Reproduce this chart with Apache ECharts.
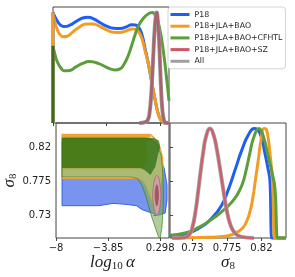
<!DOCTYPE html>
<html><head><meta charset="utf-8">
<script src="https://cdn.jsdelivr.net/npm/echarts@6/dist/echarts.min.js"></script>
<style>html,body{margin:0;padding:0;background:#fff}#c{width:295px;height:277px}</style>
</head><body><div id="c"></div>
<script>
// ---------- names / ticks ----------
const seriesNames = ['P18', 'P18+JLA+BAO', 'P18+JLA+BAO+CFHTL', 'P18+JLA+BAO+SZ', 'All'];
const alphaTicks = [-8, -3.85, 0.298];
const sigmaTicks = [0.73, 0.775, 0.82];

// ---------- 1D posteriors in log10(alpha) ----------
const alphaP18 = [[-8,1.0],[-7.8,0.95],[-7.6,0.91],[-7.4,0.885],[-7.1,0.873],[-6.7,0.885],[-6.2,0.92],[-5.7,0.95],[-5.3,0.957],[-4.8,0.94],[-4.3,0.905],[-3.8,0.875],[-3.3,0.858],[-2.8,0.856],[-2.3,0.87],[-1.9,0.89],[-1.6,0.888],[-1.35,0.865],[-1.1,0.80],[-0.85,0.67],[-0.6,0.535],[-0.35,0.375],[-0.1,0.225],[0.15,0.09],[0.4,0.02],[0.65,0],[1,0]];
const alphaJLA = [[-8,1.0],[-7.85,0.91],[-7.65,0.84],[-7.45,0.80],[-7.2,0.78],[-6.9,0.785],[-6.5,0.82],[-6.0,0.865],[-5.4,0.896],[-4.9,0.895],[-4.3,0.87],[-3.8,0.84],[-3.3,0.822],[-2.8,0.82],[-2.3,0.835],[-1.9,0.85],[-1.6,0.848],[-1.35,0.825],[-1.1,0.765],[-0.85,0.65],[-0.6,0.535],[-0.35,0.375],[-0.1,0.225],[0.15,0.09],[0.4,0.02],[0.65,0],[1,0]];
const alphaCFHTL = [[-8,0.70],[-7.85,0.62],[-7.65,0.55],[-7.4,0.50],[-7.1,0.472],[-6.7,0.475],[-6.2,0.51],[-5.7,0.54],[-5.2,0.556],[-4.7,0.548],[-4.2,0.525],[-3.7,0.497],[-3.2,0.48],[-2.8,0.49],[-2.5,0.53],[-2.2,0.60],[-1.9,0.70],[-1.6,0.81],[-1.3,0.895],[-1.0,0.946],[-0.65,0.985],[-0.3,1.0],[0.0,0.96],[0.3,0.84],[0.55,0.66],[0.8,0.42],[1.0,0.2]];
const alphaSZ = [[-1.3,0],[-0.8,0.01],[-0.6,0.04],[-0.5,0.1],[-0.4,0.22],[-0.3,0.42],[-0.2,0.66],[-0.1,0.87],[0.0,0.99],[0.05,1.0],[0.1,0.97],[0.2,0.82],[0.3,0.55],[0.4,0.27],[0.5,0.1],[0.6,0.03],[0.7,0.005],[1.0,0]];
const alphaAll = [[-1.3,0],[-0.8,0.01],[-0.6,0.04],[-0.5,0.1],[-0.4,0.22],[-0.3,0.42],[-0.2,0.66],[-0.1,0.87],[0.0,0.99],[0.05,1.0],[0.1,0.97],[0.2,0.82],[0.3,0.55],[0.4,0.27],[0.5,0.1],[0.6,0.03],[0.7,0.005],[1.0,0]];
// values at the lower prior edge (vertical drop to zero)
const alphaEdgeP18 = [[-8,0],[-8,1.0]];
const alphaEdgeJLA = [[-8,0],[-8,1.0]];
const alphaEdgeCFHTL = [[-8,0],[-8,0.70]];

// ---------- 1D posteriors in sigma8 ----------
const sigP18 = [[0.7007,0.015],[0.7203,0.035],[0.7376,0.085],[0.7551,0.18],[0.7681,0.30],[0.7767,0.44],[0.7855,0.62],[0.7942,0.80],[0.8028,0.94],[0.8106,1.0],[0.8181,0.956],[0.8246,0.77],[0.8289,0.62],[0.8311,0.52],[0.8320,0.3],[0.8326,0.05],[0.834,0],[0.852,0]];
const sigJLA = [[0.7111,0],[0.7398,0.005],[0.7659,0.012],[0.7812,0.03],[0.7920,0.07],[0.7985,0.12],[0.8050,0.24],[0.8093,0.39],[0.8115,0.5],[0.8158,0.71],[0.8194,0.895],[0.8233,1.0],[0.8268,0.986],[0.8311,0.77],[0.8341,0.55],[0.8355,0.3],[0.8363,0.03],[0.8376,0],[0.852,0]];
const sigCFHTL = [[0.7007,0.025],[0.7203,0.045],[0.7376,0.095],[0.7551,0.17],[0.7681,0.24],[0.7790,0.31],[0.7880,0.39],[0.7950,0.49],[0.8000,0.62],[0.8050,0.78],[0.8100,0.92],[0.8168,1.0],[0.8224,0.93],[0.8289,0.74],[0.8337,0.6],[0.8376,0.45],[0.8392,0.2],[0.8400,0.02],[0.8415,0],[0.852,0]];
const sigSZ = [[0.7035,0],[0.7203,0.005],[0.7268,0.04],[0.7300,0.10],[0.7335,0.22],[0.7370,0.40],[0.7405,0.60],[0.7440,0.78],[0.7475,0.92],[0.7528,1.0],[0.7580,0.93],[0.7620,0.80],[0.7660,0.63],[0.7700,0.45],[0.7745,0.26],[0.7800,0.11],[0.7860,0.04],[0.7940,0.01],[0.8100,0]];
const sigAll = [[0.7035,0],[0.7203,0.005],[0.7268,0.04],[0.7300,0.10],[0.7335,0.22],[0.7370,0.40],[0.7405,0.60],[0.7440,0.78],[0.7475,0.92],[0.7528,1.0],[0.7580,0.93],[0.7620,0.80],[0.7660,0.63],[0.7700,0.45],[0.7745,0.26],[0.7800,0.11],[0.7860,0.04],[0.7940,0.01],[0.8100,0]];

// ---------- 2D contours (log10 alpha, sigma8) ----------
const p18C95 = [[-7.52,0.827],[-1.26,0.827],[-0.48,0.8217],[0.14,0.8099],[0.61,0.7928],[0.84,0.7704],[0.84,0.7507],[0.69,0.7336],[0.14,0.7305],[-0.35,0.7335],[-1.13,0.738],[-1.6,0.7432],[-2.42,0.745],[-3.46,0.7463],[-4.6,0.7432],[-7.52,0.7432]];
const p18C68 = [[-7.52,0.825],[-1.3,0.825],[-0.9,0.818],[-0.75,0.80],[-0.95,0.787],[-1.4,0.784],[-7.52,0.784]];
const jlaC95 = [[-7.52,0.8371],[-0.48,0.8371],[-0.17,0.8323],[0.22,0.8231],[0.45,0.8099],[0.53,0.7967],[0.49,0.7836],[0.30,0.7638],[0.06,0.745],[-0.2,0.742],[-0.45,0.752],[-0.87,0.7704],[-1.13,0.776],[-1.41,0.779],[-7.52,0.779]];
const jlaC68 = [[-7.52,0.8371],[-0.55,0.8371],[-0.48,0.834],[-0.75,0.830],[-0.79,0.8191],[-0.71,0.8059],[-0.79,0.7967],[-1.02,0.7945],[-1.26,0.791],[-7.52,0.791]];
const cfhtlC95 = [[-7.52,0.8323],[-0.87,0.8323],[-0.33,0.8296],[0.06,0.8231],[0.37,0.8099],[0.49,0.7902],[0.55,0.7638],[0.55,0.744],[0.43,0.7138],[0.30,0.7007],[0.16,0.7024],[-0.35,0.727],[-0.87,0.7572],[-1.17,0.7704],[-1.51,0.779],[-2.04,0.7809],[-7.52,0.7809]];
const cfhtlC68 = [[-7.52,0.8323],[-0.2,0.8323],[0.2,0.829],[0.3,0.82],[0.16,0.8125],[-0.09,0.7945],[-0.48,0.7836],[-0.95,0.79],[-1.3,0.7928],[-7.52,0.7928]];
const szC95 = [[0.03,0.783],[0.2,0.7785],[0.31,0.767],[0.36,0.757],[0.31,0.746],[0.2,0.7355],[0.03,0.731],[-0.14,0.7355],[-0.25,0.746],[-0.3,0.757],[-0.25,0.767],[-0.14,0.7785]];
const szC68 = [[0.03,0.7715],[0.13,0.768],[0.2,0.757],[0.13,0.746],[0.03,0.7425],[-0.07,0.746],[-0.14,0.757],[-0.07,0.768]];

// ---------- styling ----------
const COL = {p18:'#1f5ef5', jla:'#f39c1f', cfhtl:'#5b9e3c', sz:'#cf5764', all:'#a0a0a0'};
const AX = '#444';
const TXT = '#222';
const fmtNum = v => (v < 0 ? '\u2212' + String(-v) : String(v));

function line1D(name, data, color, xi, yi, extra) {
  return Object.assign({
    type:'line', name, data, xAxisIndex:xi, yAxisIndex:yi,
    color, symbol:'none', showSymbol:false, smooth:0.5,
    clip:false, silent:true,
    lineStyle:{width:3, color}
  }, extra || {});
}
function contour(name, pts, fill, stroke, lw, smooth) {
  return {
    type:'custom', name, coordinateSystem:'cartesian2d', xAxisIndex:1, yAxisIndex:1,
    data: pts, clip:true, silent:true,
    encode:{x:0, y:1},
    renderItem:(params, api) => {
      if (params.dataIndex !== 0) return null;
      const P = pts.map(p => api.coord(p));
      return {type:'polygon', shape:{points:P, smooth: smooth || 0},
        style:{fill, stroke: stroke || null, lineWidth: stroke ? (lw || 1) : 0}};
    }
  };
}

const hiddenAxis = {axisLine:{show:false}, axisLabel:{show:false}, axisTick:{show:false}, splitLine:{show:false}};
const labelStyle = {fontSize:10, fontFamily:'DejaVu Sans', color:TXT, margin:5};
const tickStyle = (vals, inside) => ({show:true, customValues:vals, length:3, inside:!!inside, lineStyle:{color:AX, width:1}});
const richName = {
  a:{fontFamily:'Liberation Serif', fontStyle:'italic', fontSize:17, color:TXT},
  s:{fontFamily:'Liberation Serif', fontSize:11, color:TXT, padding:[7,0,0,0]}
};

const option = {
  animation:false,
  backgroundColor:'#fff',
  grid:[
    {left:53, top:7, width:116, height:116, show:true, borderColor:AX, borderWidth:1},
    {left:53, top:123, width:116, height:115, show:true, borderColor:AX, borderWidth:1},
    {left:170, top:123, width:116, height:115, show:true, borderColor:AX, borderWidth:1}
  ],
  xAxis:[
    {gridIndex:0, type:'value', min:-8, max:1, axisLine:{show:false}, splitLine:{show:false},
     axisTick:tickStyle(alphaTicks), axisLabel:{show:false}},
    {gridIndex:1, type:'value', min:-8, max:1, axisLine:{show:false}, splitLine:{show:false},
     axisTick:tickStyle(alphaTicks),
     axisLabel:Object.assign({customValues:alphaTicks, formatter:fmtNum}, labelStyle),
     name:'{a|log}{s|10}{a|\u2009\u03b1}', nameLocation:'middle', nameGap:16,
     nameTextStyle:{rich:richName}},
    {gridIndex:2, type:'value', min:0.7007, max:0.852, axisLine:{show:false}, splitLine:{show:false},
     axisTick:tickStyle(sigmaTicks),
     axisLabel:Object.assign({customValues:sigmaTicks, formatter:fmtNum}, labelStyle),
     name:'{a|\u03c3}{s|8}', nameLocation:'middle', nameGap:16,
     nameTextStyle:{rich:richName}}
  ],
  yAxis:[
    Object.assign({gridIndex:0, type:'value', min:0, max:1.05}, hiddenAxis),
    {gridIndex:1, type:'value', min:0.7007, max:0.852, axisLine:{show:false}, splitLine:{show:false},
     axisTick:tickStyle(sigmaTicks),
     axisLabel:Object.assign({customValues:sigmaTicks, formatter:fmtNum}, labelStyle),
     name:'{a|\u03c3}{s|8}', nameLocation:'middle', nameGap:34, nameRotate:90,
     nameTextStyle:{rich:richName}},
    Object.assign({gridIndex:2, type:'value', min:0, max:1.05, position:'left'}, hiddenAxis),
    {gridIndex:2, type:'value', min:0.7007, max:0.852, position:'left', axisLine:{show:false},
     splitLine:{show:false}, axisLabel:{show:false}, axisTick:tickStyle(sigmaTicks, true)}
  ],
  legend:{
    data:seriesNames, orient:'vertical', left:168, top:7, icon:'rect',
    itemWidth:19, itemHeight:3, itemGap:0.7, padding:[2,3,2,2.5],
    backgroundColor:'#fff', borderColor:'#d4d4d4', borderWidth:1, borderRadius:3,
    selectedMode:false,
    textStyle:{fontSize:7.8, fontFamily:'DejaVu Sans', color:TXT, lineHeight:11}
  },
  series:[
    // 1D log10 alpha (top-left)
    line1D(seriesNames[0], alphaP18, COL.p18, 0, 0),
    line1D(seriesNames[1], alphaJLA, COL.jla, 0, 0),
    line1D(seriesNames[2], alphaCFHTL, COL.cfhtl, 0, 0),
    line1D(seriesNames[0], alphaEdgeP18, COL.p18, 0, 0, {smooth:false}),
    line1D(seriesNames[1], alphaEdgeJLA, COL.jla, 0, 0, {smooth:false}),
    line1D(seriesNames[2], alphaEdgeCFHTL, '#3f6a1c', 0, 0, {smooth:false}),
    line1D(seriesNames[4], alphaAll, COL.all, 0, 0, {lineStyle:{width:4, color:'#9a9a9a'}}),
    line1D(seriesNames[3], alphaSZ, COL.sz, 0, 0, {lineStyle:{width:2.6, color:'#b04a58', opacity:0.7}}),
    // 1D sigma8 (bottom-right)
    line1D(seriesNames[0], sigP18, COL.p18, 2, 2),
    line1D(seriesNames[1], sigJLA, COL.jla, 2, 2),
    line1D(seriesNames[2], sigCFHTL, COL.cfhtl, 2, 2),
    line1D(seriesNames[4], sigAll, COL.all, 2, 2, {lineStyle:{width:4, color:'#a8a8a8'}}),
    line1D(seriesNames[3], sigSZ, COL.sz, 2, 2, {lineStyle:{width:2.6, color:COL.sz, opacity:0.85}}),
    // 2D contours (bottom-left)
    contour(seriesNames[0], p18C95, '#7894ee', '#2f62ee', 1),
    contour(seriesNames[0], p18C68, '#4a72ee', null),
    contour(seriesNames[1], jlaC95, '#f6cb9e', '#efa03a', 1.2),
    contour(seriesNames[1], jlaC68, '#f0a136', null),
    contour(seriesNames[2], cfhtlC95, 'rgba(120,175,90,0.6)', 'rgba(60,130,30,0.9)', 0.8),
    contour(seriesNames[2], cfhtlC68, 'rgba(25,100,0,0.65)', null),
    contour(seriesNames[3], szC95, '#cda0a3', '#a8676f', 0.8, 0.4),
    contour(seriesNames[3], szC68, '#a05866', null, 1, 0.4)
  ]
};
const chart = echarts.init(document.getElementById('c'), null, {renderer:'canvas'});
chart.setOption(option);
</script>
</body></html>
